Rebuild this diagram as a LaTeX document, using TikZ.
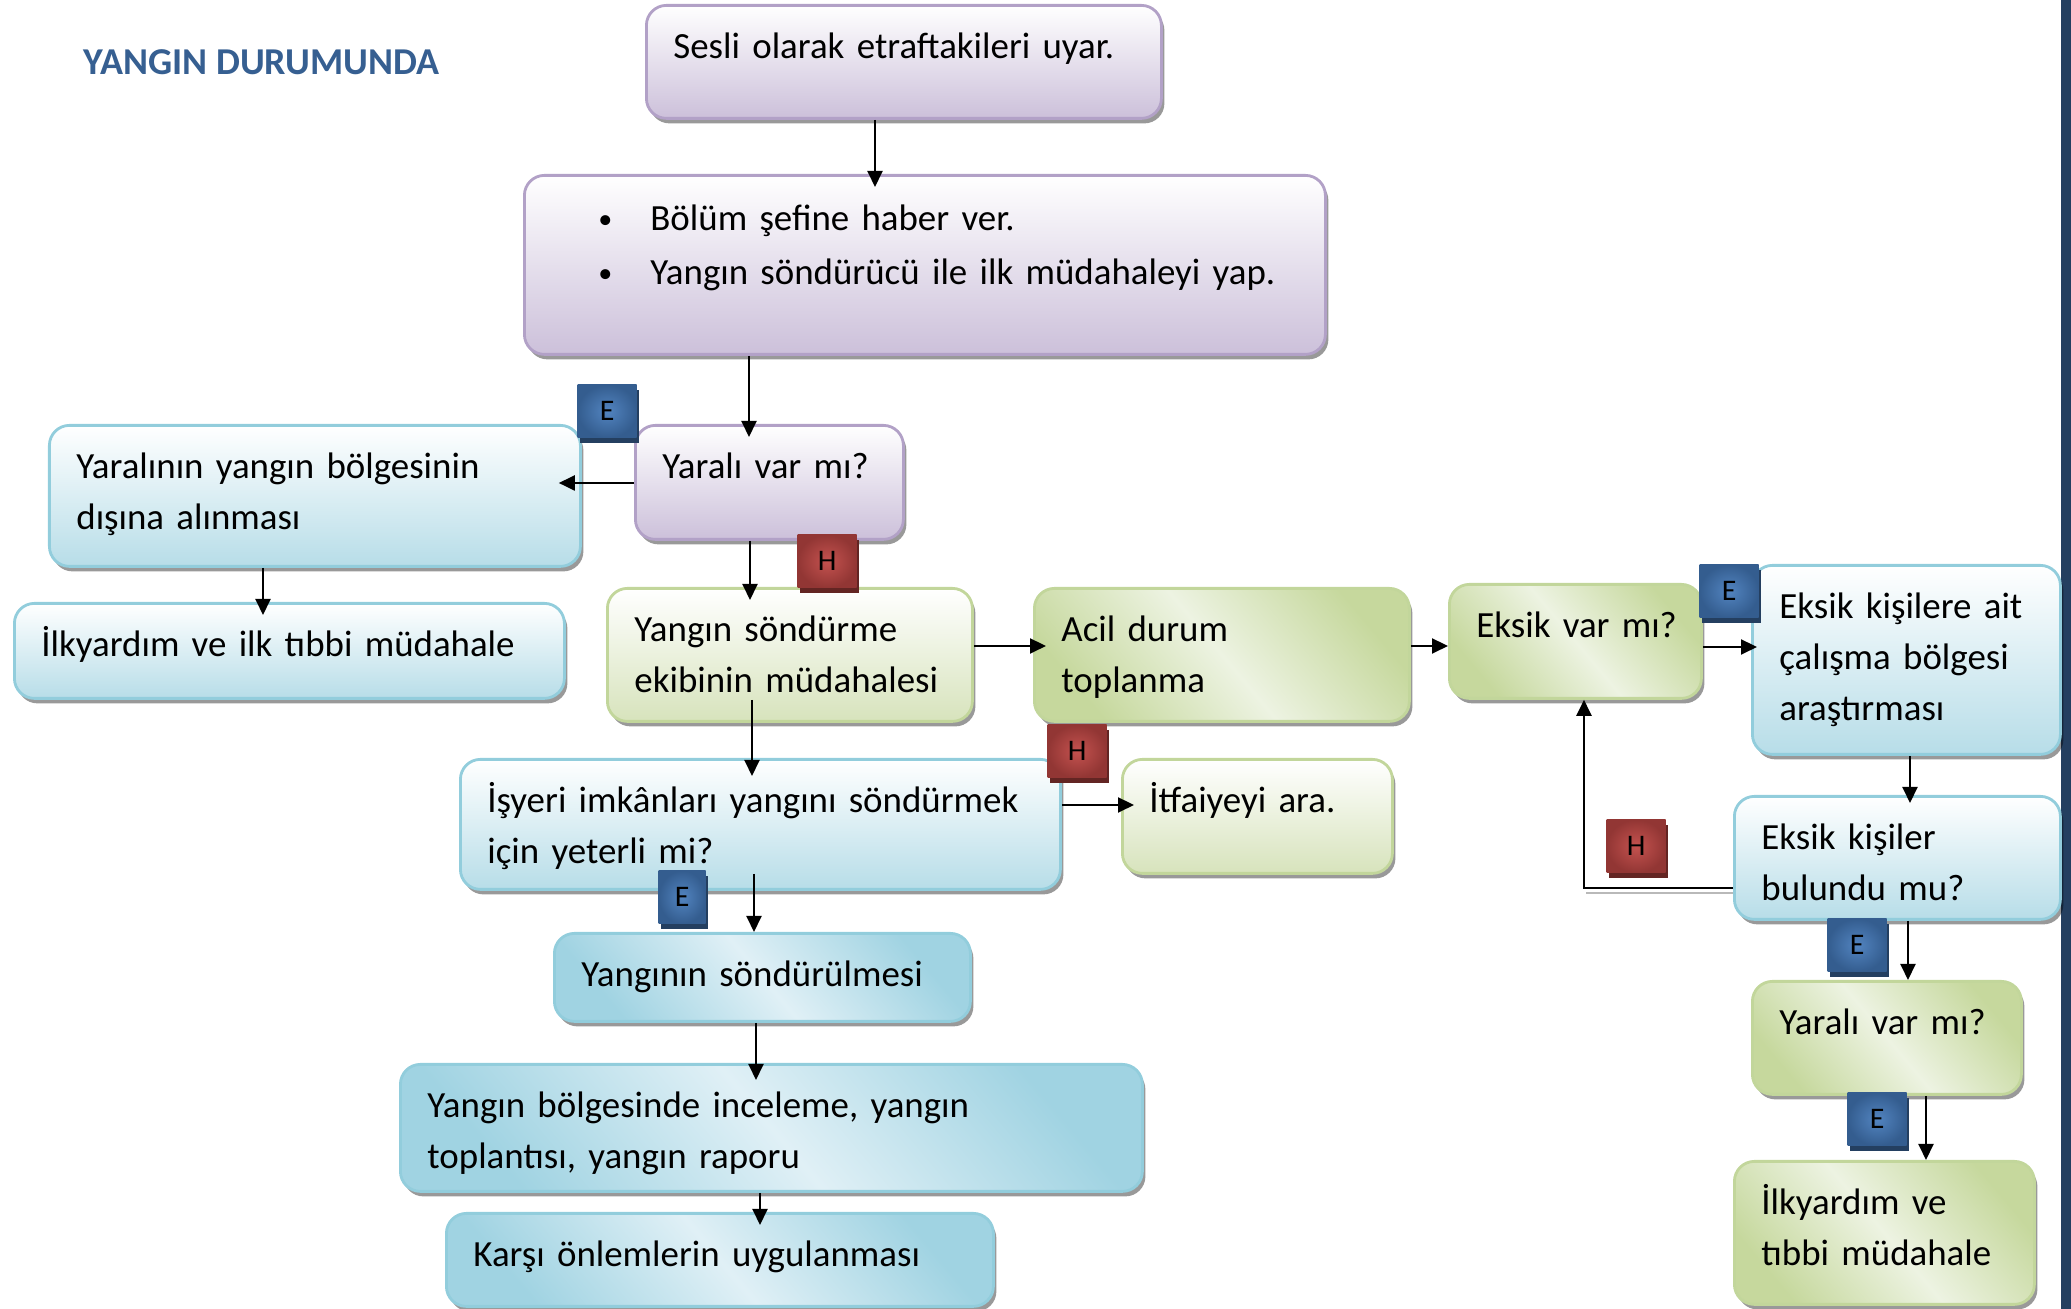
\documentclass[tikz,border=0pt]{standalone}
\usepackage{fontspec}
\setmainfont{Carlito}
\usepackage{xcolor}
\usetikzlibrary{arrows.meta,shadows}

\definecolor{morkenar}{RGB}{178,161,199}
\definecolor{morzemin}{RGB}{204,192,218}
\definecolor{mavikenar}{RGB}{146,205,220}
\definecolor{mavizemin}{RGB}{183,221,232}
\definecolor{mavikoyu}{RGB}{160,211,226}
\definecolor{maviacik}{RGB}{224,240,246}
\definecolor{yesilkenar}{RGB}{194,214,155}
\definecolor{yesilzemin}{RGB}{215,227,188}
\definecolor{yesilkoyu}{RGB}{198,216,157}
\definecolor{yesilacik}{RGB}{237,243,226}
\definecolor{baslikrenk}{RGB}{54,95,145}
\definecolor{ekutu}{RGB}{52,93,143}
\definecolor{eorta}{RGB}{82,132,192}
\definecolor{egolge}{RGB}{36,63,96}
\definecolor{hkutu}{RGB}{146,54,52}
\definecolor{horta}{RGB}{196,82,79}
\definecolor{hgolge}{RGB}{99,37,35}
\definecolor{cubuk}{RGB}{36,63,96}

\newcommand{\madde}{\hspace*{0.47cm}\makebox[0.52cm][l]{\raisebox{0.12ex}{\fontsize{8}{8}\selectfont\textbullet}}}

\tikzset{
    kutu/.style={anchor=north west, rounded corners=0.2cm, line width=0.8pt, align=left,
        inner xsep=0.27cm, inner ysep=0pt, text height=0.53cm,
        font=\fontsize{10.5}{14.5}\selectfont,
        drop shadow={shadow xshift=0.03cm, shadow yshift=-0.05cm, fill=black, opacity=0.4}},
    mor/.style={kutu, draw=morkenar, top color=white, bottom color=morzemin},
    mavi/.style={kutu, draw=mavikenar, top color=white, bottom color=mavizemin},
    yesil/.style={kutu, draw=yesilkenar, top color=white, bottom color=yesilzemin},
    mavi2/.style={kutu, draw=mavikenar, top color=mavikoyu, bottom color=mavikoyu,
        middle color=maviacik, shading angle=-50},
    yesil2/.style={kutu, draw=yesilkenar, top color=yesilkoyu, bottom color=yesilkoyu,
        middle color=yesilacik, shading angle=-50},
    rozet/.style={anchor=north west, minimum width=0.59cm, minimum height=0.53cm,
        inner sep=0pt, font=\fontsize{8.5}{10}\selectfont},
    erozet/.style={rozet, inner color=eorta, outer color=ekutu,
        drop shadow={shadow xshift=0.02cm, shadow yshift=-0.05cm, fill=egolge, opacity=1}},
    hrozet/.style={rozet, inner color=horta, outer color=hkutu,
        drop shadow={shadow xshift=0.02cm, shadow yshift=-0.05cm, fill=hgolge, opacity=1}},
    ok/.style={-{Triangle[length=0.16cm, width=0.15cm]}, line width=0.6pt, shorten >=-0.13cm},
    baslik/.style={anchor=base west, inner sep=0pt, text=baslikrenk,
        font=\bfseries\fontsize{10.8}{12}\selectfont}
}

\begin{document}
\begin{tikzpicture}
    
        \useasboundingbox (0,0) rectangle (20.71,-13.09);
        \fill[cubuk] (20.61,0) rectangle (20.71,-13.09);
        
        \node[baslik] (baslik) at (0.83,-0.75) {YANGIN DURUMUNDA};
        
        \node[mor, text width=4.61cm, text depth=0.60cm] (uyar) at (6.45,-0.04) {\mbox{Sesli olarak etraftakileri uyar.}};
        \node[mor, text width=7.47cm, text height=0.55cm, text depth=1.24cm] (haber) at (5.23,-1.74)
            {\madde Bölüm şefine haber ver.\\[0.03cm]
             \madde Yangın söndürücü ile ilk müdahaleyi yap.};
        \node[mor, text width=2.14cm, text depth=0.61cm] (yarali) at (6.34,-4.24) {\mbox{Yaralı var mı?}};
        \node[mavi, text width=4.77cm, text depth=0.88cm] (tasima) at (0.48,-4.24) {Yaralının yangın bölgesinin\\dışına alınması};
        \node[mavi, text width=4.96cm, text depth=0.42cm] (ilkyardim) at (0.13,-6.02) {\mbox{İlkyardım ve ilk tıbbi müdahale}};
        \node[yesil, text width=3.11cm, text depth=0.80cm] (ekip) at (6.06,-5.87) {\mbox{Yangın söndürme}\\\mbox{ekibinin müdahalesi}};
        \node[yesil2, text width=3.21cm, text depth=0.80cm] (toplanma) at (10.33,-5.87) {Acil durum\\toplanma};
        \node[yesil2, text width=1.98cm, text depth=0.61cm] (eksik) at (14.48,-5.83) {\mbox{Eksik var mı?}};
        \node[mavi, text width=2.54cm, text depth=1.36cm] (arastir) at (17.51,-5.64) {\mbox{Eksik kişilere ait}\\\mbox{çalışma bölgesi}\\araştırması};
        \node[mavi, text width=5.46cm, text depth=0.77cm] (yeterli) at (4.59,-7.58) {\mbox{İşyeri imkânları yangını söndürmek}\\için yeterli mi?};
        \node[yesil, text width=2.16cm, text depth=0.61cm] (itfaiye) at (11.21,-7.58) {\mbox{İtfaiyeyi ara.}};
        \node[mavi, text width=2.72cm, text depth=0.70cm] (bulundu) at (17.33,-7.95) {Eksik kişiler\\bulundu mu?};
        \node[mavi2, text width=3.62cm, text depth=0.35cm] (sondur) at (5.53,-9.32) {\mbox{Yangının söndürülmesi}};
        \node[yesil2, text width=2.15cm, text depth=0.60cm] (yarali2) at (17.51,-9.80) {\mbox{Yaralı var mı?}};
        \node[mavi2, text width=6.88cm, text depth=0.74cm] (inceleme) at (3.99,-10.63) {\mbox{Yangın bölgesinde inceleme, yangın}\\toplantısı, yangın raporu};
        \node[mavi2, text width=4.93cm, text depth=0.40cm] (onlem) at (4.45,-12.12) {\mbox{Karşı önlemlerin uygulanması}};
        \node[yesil2, text width=2.46cm, text depth=0.90cm] (ilkyardim2) at (17.33,-11.60) {İlkyardım ve\\\mbox{tıbbi müdahale}};
        
        \draw[ok] (uyar.south -| 8.75,0) -- (haber.north -| 8.75,0);
        \draw[ok] (haber.south -| 7.49,0) -- (yarali.north -| 7.49,0);
        \draw[ok, shorten >=-0.23cm] (yarali.west |- 0,-4.83) -- (tasima.east |- 0,-4.83);
        \draw[ok] (tasima.south -| 2.63,0) -- (ilkyardim.north -| 2.63,0);
        \draw[ok] (yarali.south -| 7.50,0) -- (ekip.north -| 7.50,0);
        \draw[ok] (ekip.east |- 0,-6.46) -- (toplanma.west |- 0,-6.46);
        \draw[ok, shorten >=0pt] (toplanma.east |- 0,-6.46) -- (eksik.west |- 0,-6.46);
        \draw[ok, shorten >=-0.06cm] (eksik.east |- 0,-6.47) -- (arastir.west |- 0,-6.47);
        \draw[ok, shorten >=-0.08cm] (arastir.south -| 19.10,0) -- (bulundu.north -| 19.10,0);
        \draw[gray!55, line width=0.6pt] (bulundu.west |- 0,-8.93) -- +(-1.47,0);
        \draw[ok, shorten >=0pt] (bulundu.west |- 0,-8.88) -| (eksik.south -| 15.84,0);
        \draw[ok, shorten <=-0.23cm, shorten >=-0.18cm] (ekip.south -| 7.52,0) -- (yeterli.north -| 7.52,0);
        \draw[ok] (yeterli.east |- 0,-8.05) -- (itfaiye.west |- 0,-8.05);
        \draw[ok, shorten <=-0.17cm, shorten >=0pt] (yeterli.south -| 7.54,0) -- (sondur.north -| 7.54,0);
        \draw[ok, shorten >=-0.17cm] (sondur.south -| 7.56,0) -- (inceleme.north -| 7.56,0);
        \draw[ok] (inceleme.south -| 7.60,0) -- (onlem.north -| 7.60,0);
        \draw[ok, shorten >=0pt] (bulundu.south -| 19.08,0) -- (yarali2.north -| 19.08,0);
        \draw[ok, shorten >=0pt] (yarali2.south -| 19.26,0) -- (ilkyardim2.north -| 19.26,0);
        
        \node[erozet] (e1) at (5.77,-3.84) {E};
        \node[hrozet] (h1) at (7.97,-5.34) {H};
        \node[hrozet] (h2) at (10.47,-7.24) {H};
        \node[erozet] (e2) at (16.99,-5.64) {E};
        \node[hrozet] (h3) at (16.06,-8.19) {H};
        \node[erozet, minimum width=0.47cm] (e3) at (6.58,-8.70) {E};
        \node[erozet] (e4) at (18.27,-9.18) {E};
        \node[erozet] (e5) at (18.47,-10.92) {E};
        
        \end{tikzpicture}
\end{document}
